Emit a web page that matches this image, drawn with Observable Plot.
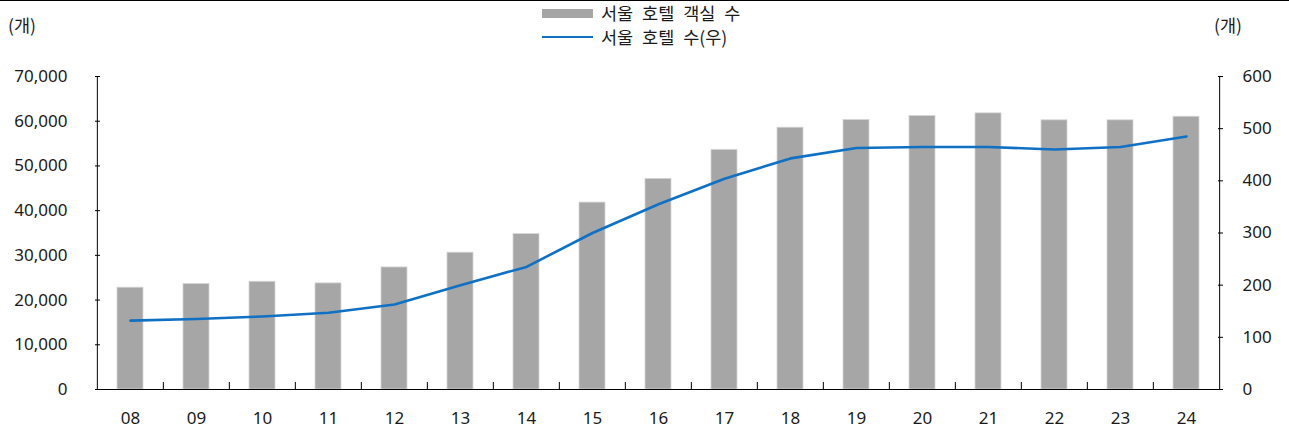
<!DOCTYPE html>
<html>
<head>
<meta charset="utf-8">
<script src="https://cdn.jsdelivr.net/npm/d3@7"></script>
<script src="https://cdn.jsdelivr.net/npm/@observablehq/plot@0.6"></script>
<style>
  body { margin: 0; background: #fff; font-family: "Noto Sans CJK KR", "Noto Sans", sans-serif; color: #1a1a1a; }
  #wrap { position: relative; width: 1289px; height: 430px; overflow: hidden; }
  #head { position: relative; height: 60px; border-top: 1.5px solid #000; box-sizing: border-box; }
  .unit { position: absolute; top: 13px; font-size: 17.5px; line-height: 22px; }
  .legend { position: absolute; left: 542px; font-size: 17.5px; line-height: 22px; word-spacing: 5px; display: flex; align-items: center; }
  .sw { display: inline-block; width: 51px; margin-right: 8px; }
  #chart svg { display: block; }
</style>
</head>
<body>
<div id="wrap">
  <div id="head">
    <div class="unit" style="left:8px">(개)</div>
    <div class="unit" style="left:1214px">(개)</div>
    <div class="legend" style="top:1px"><span class="sw" style="height:9px;background:#a5a5a5"></span><span>서울 호텔 객실 수</span></div>
    <div class="legend" style="top:25px"><span class="sw" style="height:0;border-top:2.5px solid #1071c4"></span><span>서울 호텔 수(우)</span></div>
  </div>
  <div id="chart"></div>
</div>
<script>
const years = ["08","09","10","11","12","13","14","15","16","17","18","19","20","21","22","23","24"];
const rooms = [22770, 23590, 24100, 23730, 27300, 30600, 34750, 41800, 47100, 53600, 58550, 60270, 61160, 61760, 60200, 60200, 61000];
const hotels = [132, 135, 140, 147, 163, 200, 235, 300, 355, 404, 443, 463, 465, 465, 460, 465, 485];
const leftTicks = [0, 10000, 20000, 30000, 40000, 50000, 60000, 70000];
const rightTicks = [0, 100, 200, 300, 400, 500, 600];

const leftMax = 70000, rightMax = 600;
const k = leftMax / rightMax;
const data = years.map((y, i) => ({year: y, rooms: rooms[i], hotels: hotels[i]}));

const W = 1289, H = 370, ML = 95, MR = 67, MT = 16, MB = 41;
const step = (W - ML - MR) / years.length;

const plot = Plot.plot({
  width: W, height: H,
  marginLeft: ML, marginRight: MR, marginTop: MT, marginBottom: MB,
  style: {fontSize: "17px", fontFamily: '"Noto Sans", "Noto Sans CJK KR", sans-serif', color: "#1a1a1a", background: "#fff"},
  x: {domain: years, paddingInner: 0.6, paddingOuter: 0.3, label: null},
  y: {domain: [0, leftMax], label: null},
  marks: [
    Plot.barY(data, {x: "year", y: "rooms", fill: "#a6a6a6", stroke: "#d6d6d6", strokeWidth: 0.8}),
    Plot.line(data, {x: "year", y: d => d.hotels * k, stroke: "#1071c4", strokeWidth: 2.6}),
    Plot.ruleY([0], {stroke: "#000", strokeWidth: 1.2}),
    Plot.ruleX([years[0]], {y1: 0, y2: leftMax, dx: -step / 2, stroke: "#000"}),
    Plot.ruleX([years[years.length - 1]], {y1: 0, y2: leftMax, dx: step / 2, stroke: "#000"}),
    Plot.axisY(leftTicks, {anchor: "left", tickSize: 0, tickPadding: 28, tickFormat: d3.format(",")}),
    Plot.axisY(leftTicks, {anchor: "left", tickSize: -5, text: null, stroke: "#000"}),
    Plot.axisY(rightTicks.map(v => v * k), {anchor: "right", tickSize: 0, tickPadding: 20, tickFormat: v => String(Math.round(v / k))}),
    Plot.axisY(rightTicks.map(v => v * k), {anchor: "right", tickSize: -5, text: null, stroke: "#000"}),
    Plot.axisX(years, {anchor: "bottom", tickSize: 0, tickPadding: 22}),
    Plot.axisX(years.slice(1), {anchor: "bottom", tickSize: -7, text: null, dx: -step / 2, stroke: "#000"})
  ]
});
document.getElementById("chart").appendChild(plot);
</script>
</body>
</html>
